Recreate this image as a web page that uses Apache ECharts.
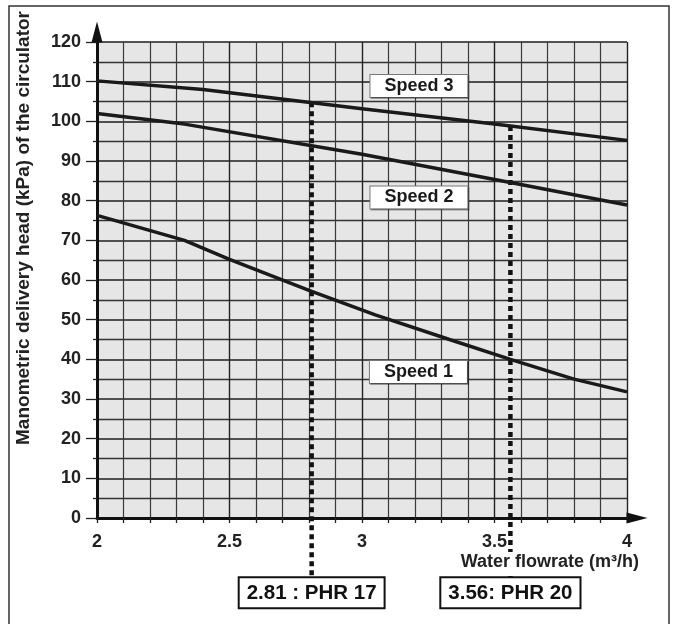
<!DOCTYPE html>
<html>
<head>
<meta charset="utf-8">
<script src="https://cdn.jsdelivr.net/npm/echarts@6/dist/echarts.min.js"></script>
<style>
html,body{margin:0;padding:0;background:#fff;}
#chart{width:673px;height:624px;}
</style>
</head>
<body>
<div id="chart"></div>
<script>
// ---- data ----
var xTicks = [2, 2.5, 3, 3.5, 4];
var yTicks = [0, 10, 20, 30, 40, 50, 60, 70, 80, 90, 100, 110, 120];

var speed3Flow = [2, 2.4, 3.0, 3.5, 4];
var speed3Head = [110.2, 108, 103.2, 99.3, 95.2];

var speed2Flow = [2, 2.33, 3.0, 3.56, 4];
var speed2Head = [102, 99.3, 91.7, 84.6, 78.9];

var speed1Flow = [2, 2.33, 2.5, 2.8, 3.05, 3.33, 3.56, 3.8, 4];
var speed1Head = [76.3, 70, 65.2, 57.4, 51.2, 45, 40, 35, 31.8];

var speedNames = ['Speed 1', 'Speed 2', 'Speed 3'];
var speedLabelFlow = [3.213, 3.215, 3.215];
var speedLabelHead = [36.8, 80.8, 108.9];

var modelFlow = [2.81, 3.56];
var modelTopHead = [104.8, 98.8];
var modelBottomHead = -15.2;
var modelLabels = ['2.81 : PHR 17', '3.56: PHR 20'];

var xName = 'Water flowrate (m\u00b3/h)';
var yName = 'Manometric delivery head (kPa) of the circulator';

// ---- build ----
function pairs(xs, ys) { return xs.map(function (x, i) { return [x, ys[i]]; }); }

var FONT = '"Liberation Sans", Arial, Helvetica, sans-serif';
var chart = echarts.init(document.getElementById('chart'), null, {renderer: 'canvas'});

var speedLabelStyle = {
  show: true, position: 'inside',
  fontFamily: FONT, fontWeight: 'bold', fontSize: 18, color: '#1a1a1a',
  lineHeight: 18,
  backgroundColor: '#fff', borderColor: '#777', borderWidth: 1,
  padding: [2, 14, 2, 14],
  shadowColor: 'rgba(0,0,0,0.35)', shadowOffsetX: 1, shadowOffsetY: 1, shadowBlur: 0
};

function speedSeries(idx, flow, head) {
  return {
    type: 'line', name: speedNames[idx],
    data: pairs(flow, head),
    symbol: 'none', smooth: false,
    lineStyle: {color: '#1a1a1a', width: 3.5},
    z: 5,
    markPoint: {
      symbol: 'rect', symbolSize: 1,
      itemStyle: {color: 'rgba(0,0,0,0)'},
      label: Object.assign({}, speedLabelStyle, {formatter: speedNames[idx]}),
      data: [{coord: [speedLabelFlow[idx], speedLabelHead[idx]]}],
      z: 8
    }
  };
}

var series = [
  speedSeries(0, speed1Flow, speed1Head),
  speedSeries(1, speed2Flow, speed2Head),
  speedSeries(2, speed3Flow, speed3Head)
];

modelFlow.forEach(function (f, i) {
  series.push({
    type: 'line',
    data: [
      {value: [f, modelTopHead[i]]},
      {value: [f, modelBottomHead],
       label: {
         show: true, position: 'bottom', distance: 0,
         formatter: modelLabels[i],
         fontFamily: FONT, fontWeight: 'bold', fontSize: 20.5, color: '#111',
         lineHeight: 22,
         backgroundColor: '#fff', borderColor: '#111', borderWidth: 2,
         padding: [4, 7, 3, 7]
       }}
    ],
    clip: false,
    symbol: 'circle', symbolSize: 0.1,
    itemStyle: {color: '#111'},
    lineStyle: {color: '#111', width: 4.5, type: [5, 4]},
    z: 4,
    silent: true
  });
});

var option = {
  animation: false,
  backgroundColor: '#fff',
  grid: {left: 97, right: 46, top: 42, bottom: 106, show: true,
         backgroundColor: '#e6e6e7', borderWidth: 0},
  xAxis: {
    type: 'value', min: 2, max: 4, interval: 0.5,
    axisLine: {show: true, onZero: false, lineStyle: {color: '#111', width: 3},
               symbol: ['none', 'triangle'], symbolSize: [11, 21], symbolOffset: [0, 10]},
    axisTick: {show: true, inside: false, length: 5, lineStyle: {color: '#222', width: 1.3}},
    minorTick: {show: true, splitNumber: 5, length: 5, lineStyle: {color: '#222', width: 1.3}},
    splitLine: {show: true, lineStyle: {color: '#222', width: 1.4}},
    minorSplitLine: {show: true, lineStyle: {color: '#3a3a3a', width: 1.2}},
    axisLabel: {
      margin: 15, fontFamily: FONT, fontWeight: 'bold', fontSize: 18, color: '#222',
      formatter: function (v) { return xTicks.indexOf(v) >= 0 ? String(v) : ''; }
    }
  },
  yAxis: {
    type: 'value', min: 0, max: 120, interval: 10,
    axisLine: {show: true, onZero: false, lineStyle: {color: '#111', width: 3},
               symbol: ['none', 'triangle'], symbolSize: [11, 21], symbolOffset: [0, 10]},
    axisTick: {show: true, inside: false, length: 11, lineStyle: {color: '#222', width: 1.3}},
    minorTick: {show: true, splitNumber: 2, length: 4, lineStyle: {color: '#222', width: 1.3}},
    splitLine: {show: true, lineStyle: {color: '#1e1e1e', width: 1.5}},
    minorSplitLine: {show: true, lineStyle: {color: '#333', width: 1.3}},
    axisLabel: {
      margin: 16, fontFamily: FONT, fontWeight: 'bold', fontSize: 18, color: '#222',
      formatter: function (v) { return yTicks.indexOf(v) >= 0 ? String(v) : ''; }
    }
  },
  graphic: [
    {type: 'rect', z: 0, silent: true,
     shape: {x: 9, y: 6, width: 660, height: 640},
     style: {fill: 'none', stroke: '#333', lineWidth: 1.5}},
    {type: 'text', z: 100, silent: true,
     x: 24, y: 228, rotation: Math.PI / 2,
     style: {text: yName, fontFamily: FONT, fontWeight: 'bold', fontSize: 19,
             fill: '#222', align: 'center', verticalAlign: 'middle'}},
    {type: 'text', z: 100, silent: true,
     x: 639, y: 562,
     style: {text: xName, fontFamily: FONT, fontWeight: 'bold', fontSize: 18,
             fill: '#222', align: 'right', verticalAlign: 'middle',
             backgroundColor: '#fff', padding: [1, 0, 1, 0]}}
  ],
  series: series
};

chart.setOption(option);
</script>
</body>
</html>
